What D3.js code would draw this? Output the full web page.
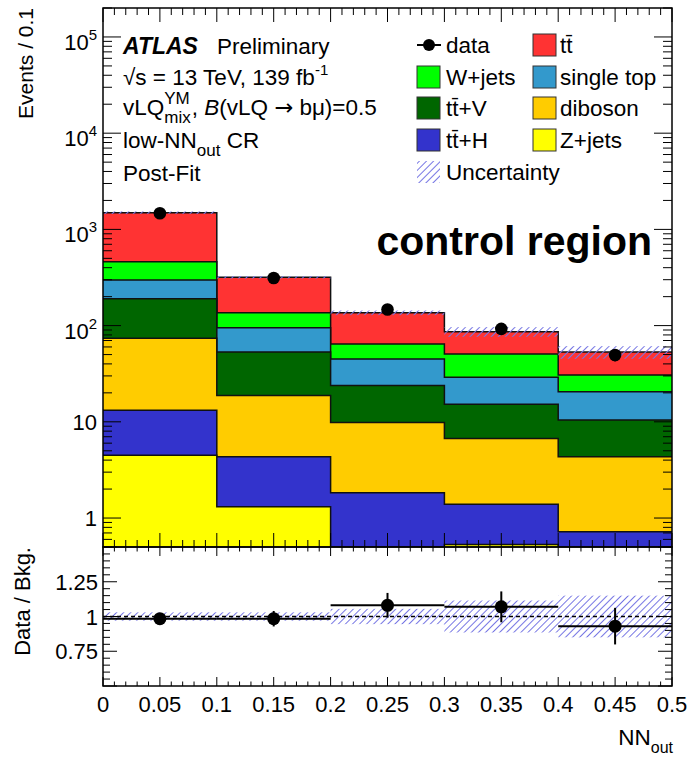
<!DOCTYPE html>
<html>
<head>
<meta charset="utf-8">
<script src="https://cdn.jsdelivr.net/npm/d3@7"></script>
<style>
  html, body { margin: 0; padding: 0; background: #fff; }
  svg text { font-family: "Liberation Sans", Arial, Helvetica, sans-serif; fill: #000; }
</style>
</head>
<body>
<svg id="chart" width="692" height="758"></svg>
<script>
// ---- data: NN output bins (width 0.1) ----
const binEdges = [0, 0.1, 0.2, 0.3, 0.4, 0.5];

// post-fit background yields per bin (stack order, bottom to top)
const zjets     = [4.5, 1.31, 0.3, 0.53, 0.2];
const ttH       = [8.7, 3.03, 1.53, 0.86, 0.52];
const diboson   = [60.8, 14.4, 8.0, 5.3, 3.62];
const ttV       = [116, 34.3, 14.0, 8.5, 6.1];
const singleTop = [108, 42, 21.2, 13.8, 10.15];
const wjets     = [164, 41, 19.4, 21.7, 10.1];
const ttbar     = [1031, 182, 71.6, 35.8, 22.5];

// observed data and its statistical error
const dataCounts = [1470, 313, 147, 92.5, 49.5];
const dataErrors = [38, 17.7, 12.1, 9.6, 7.0];

// relative total background uncertainty per bin
const bkgRelUnc = [0.03, 0.03, 0.055, 0.115, 0.15];

// legend / process labels
const processLabels = ["Z+jets", "t\u0074\u0304+H", "diboson", "t\u0074\u0304+V", "single top", "W+jets", "t\u0074\u0304"];
const processValues = [zjets, ttH, diboson, ttV, singleTop, wjets, ttbar];

// ---- styles ----
const processColors = ["#ffff00", "#3333cc", "#ffcc00", "#006600", "#3399cc", "#00ff00", "#ff3333"];
const hatchColor = "#7676e4";
const FONT = 22.5;

// ---- layout ----
const L = 103, R = 672, T = 8, MB = 547, RB = 686;

const svg = d3.select("#chart");
const x  = d3.scaleLinear().domain([0, 0.5]).range([L, R]);
const y  = d3.scaleLog().domain([0.5, 2e5]).range([MB, T]);
const yr = d3.scaleLinear().domain([0.5, 1.5]).range([RB, MB]);

const defs = svg.append("defs");
defs.append("clipPath").attr("id", "clipMain")
  .append("rect").attr("x", L).attr("y", T).attr("width", R - L).attr("height", MB - T);
defs.append("clipPath").attr("id", "clipRatio")
  .append("rect").attr("x", L).attr("y", MB).attr("width", R - L).attr("height", RB - MB);
const HS = 5;
const pat = defs.append("pattern").attr("id", "hatch")
  .attr("patternUnits", "userSpaceOnUse").attr("width", HS).attr("height", HS)
  .attr("patternTransform", "rotate(45)");
pat.append("line").attr("x1", 0.5).attr("y1", 0).attr("x2", 0.5).attr("y2", HS)
  .attr("stroke", hatchColor).attr("stroke-width", 1);

// ---- stacked histogram ----
const nBins = binEdges.length - 1;
const running = new Array(nBins).fill(0);
const layers = processValues.map((vals, k) => {
  const cum = vals.map((v, i) => (running[i] += v));
  return { label: processLabels[k], color: processColors[k], cum };
});
const totals = running.slice();

function stepPoints(vals) {
  const pts = vals.map((v, i) => ({ e: binEdges[i], v }));
  pts.push({ e: binEdges[vals.length], v: vals[vals.length - 1] });
  return pts;
}
const yFloor = y.domain()[0];
const area = d3.area().curve(d3.curveStepAfter)
  .x(d => x(d.e)).y0(y(yFloor)).y1(d => y(d.v));
const line = d3.line().curve(d3.curveStepAfter)
  .x(d => x(d.e)).y(d => y(d.v));

const gMain = svg.append("g").attr("clip-path", "url(#clipMain)");
layers.slice().reverse().forEach(l => {
  const pts = stepPoints(l.cum);
  gMain.append("path").attr("d", area(pts)).attr("fill", l.color);
  gMain.append("path").attr("d", line(pts)).attr("fill", "none")
    .attr("stroke", "#111").attr("stroke-width", 1.5);
});

// uncertainty band on the total
gMain.selectAll("rect.band").data(totals).join("rect").attr("class", "band")
  .attr("x", (d, i) => x(binEdges[i]))
  .attr("width", (d, i) => x(binEdges[i + 1]) - x(binEdges[i]))
  .attr("y", (d, i) => y(d * (1 + bkgRelUnc[i])))
  .attr("height", (d, i) => y(d * (1 - bkgRelUnc[i])) - y(d * (1 + bkgRelUnc[i])))
  .attr("fill", "url(#hatch)");

// data points
const centers = binEdges.slice(0, -1).map((e, i) => (e + binEdges[i + 1]) / 2);
dataCounts.forEach((n, i) => {
  gMain.append("line").attr("x1", x(centers[i])).attr("x2", x(centers[i]))
    .attr("y1", y(n - dataErrors[i])).attr("y2", y(n + dataErrors[i]))
    .attr("stroke", "#000").attr("stroke-width", 2);
  gMain.append("circle").attr("cx", x(centers[i])).attr("cy", y(n)).attr("r", 6.3).attr("fill", "#000");
});

// ---- ratio panel ----
const gRatio = svg.append("g").attr("clip-path", "url(#clipRatio)");
totals.forEach((tot, i) => {
  gRatio.append("rect")
    .attr("x", x(binEdges[i])).attr("width", x(binEdges[i + 1]) - x(binEdges[i]))
    .attr("y", yr(1 + bkgRelUnc[i])).attr("height", yr(1 - bkgRelUnc[i]) - yr(1 + bkgRelUnc[i]))
    .attr("fill", "url(#hatch)");
});
gRatio.append("line").attr("x1", L).attr("x2", R).attr("y1", yr(1)).attr("y2", yr(1))
  .attr("stroke", "#000").attr("stroke-width", 1.5).attr("stroke-dasharray", "4,3");
totals.forEach((tot, i) => {
  const r = dataCounts[i] / tot, e = dataErrors[i] / tot;
  gRatio.append("line").attr("x1", x(binEdges[i])).attr("x2", x(binEdges[i + 1]))
    .attr("y1", yr(r)).attr("y2", yr(r)).attr("stroke", "#000").attr("stroke-width", 2);
  gRatio.append("line").attr("x1", x(centers[i])).attr("x2", x(centers[i]))
    .attr("y1", yr(r - e)).attr("y2", yr(r + e)).attr("stroke", "#000").attr("stroke-width", 2);
  gRatio.append("circle").attr("cx", x(centers[i])).attr("cy", yr(r)).attr("r", 6.5).attr("fill", "#000");
});

// ---- ticks and frames ----
const gAx = svg.append("g").attr("stroke", "#000").attr("stroke-width", 1);
const near = (a, b) => Math.abs(a - b) < 1e-9;
const xMajor = x.ticks(10), xMinor = x.ticks(50);
function xTicks(yPos, dir, majLen, minLen) {
  xMinor.forEach(t => {
    const len = xMajor.some(m => near(m, t)) ? majLen : minLen;
    gAx.append("line").attr("x1", x(t)).attr("x2", x(t)).attr("y1", yPos).attr("y2", yPos + dir * len);
  });
}
xTicks(MB, -1, 14, 7);
xTicks(T, 1, 14, 7);
xTicks(RB, -1, 9, 4.5);
xTicks(MB, 1, 9, 4.5);

const yAll = y.ticks().filter(t => t >= y.domain()[0] && t <= y.domain()[1]);
const isDecade = t => near(Math.log10(t), Math.round(Math.log10(t)));
yAll.forEach(t => {
  const len = isDecade(t) ? 18 : 9;
  gAx.append("line").attr("x1", L).attr("x2", L + len).attr("y1", y(t)).attr("y2", y(t));
  gAx.append("line").attr("x1", R).attr("x2", R - len).attr("y1", y(t)).attr("y2", y(t));
});
const yrAll = yr.ticks(20);
const isQuarter = t => near(t * 4, Math.round(t * 4));
yrAll.forEach(t => {
  const len = isQuarter(t) ? 14 : 7;
  gAx.append("line").attr("x1", L).attr("x2", L + len).attr("y1", yr(t)).attr("y2", yr(t));
  gAx.append("line").attr("x1", R).attr("x2", R - len).attr("y1", yr(t)).attr("y2", yr(t));
});

svg.append("rect").attr("x", L).attr("y", T).attr("width", R - L).attr("height", MB - T)
  .attr("fill", "none").attr("stroke", "#000").attr("stroke-width", 1.5);
svg.append("rect").attr("x", L).attr("y", MB).attr("width", R - L).attr("height", RB - MB)
  .attr("fill", "none").attr("stroke", "#000").attr("stroke-width", 1.5);

// ---- rich text helper (super/subscripts via baseline shifts) ----
function rich(x0, y0, segs, anchor, size) {
  const t = svg.append("text").attr("x", x0).attr("y", y0)
    .attr("font-size", size || FONT).attr("text-anchor", anchor || "start");
  let cur = 0;
  segs.forEach(s => {
    const sh = s.shift || 0;
    const sp = t.append("tspan").text(s.t).attr("dy", sh - cur);
    cur = sh;
    if (s.size) sp.attr("font-size", s.size);
    if (s.italic) sp.attr("font-style", "italic");
    if (s.bold) sp.attr("font-weight", "bold");
    if (s.family) sp.style("font-family", s.family);
  });
  return t;
}

// tick labels
const fmtX = d3.format(".2~f");
xMajor.forEach(t => rich(x(t), 712, [{ t: fmtX(t) }], "middle", 22));
yAll.filter(isDecade).forEach(t => {
  const p = Math.round(Math.log10(t));
  if (p >= 2) rich(97, y(t) + 13, [{ t: "10" }, { t: String(p), size: 15, shift: -10 }], "end", 22);
  else rich(97, y(t) + 8, [{ t: p === 1 ? "10" : "1" }], "end", 22);
});
const fmtR = d3.format("~g");
yrAll.filter(isQuarter).filter(t => t > yr.domain()[0] && t < yr.domain()[1])
  .forEach(t => rich(98, yr(t) + 8, [{ t: fmtR(t) }], "end", 22));

// axis titles
svg.append("text").attr("transform", "translate(33,8) rotate(-90)")
  .attr("text-anchor", "end").attr("font-size", 21).text("Events / 0.1");
svg.append("text").attr("transform", "translate(30,547) rotate(-90)")
  .attr("text-anchor", "end").attr("font-size", 22).text("Data / Bkg.");
rich(673, 745, [{ t: "NN" }, { t: "out", size: 16, shift: 8 }], "end", 22.5);

// ---- labels ----
svg.append("text").attr("x", 123).attr("y", 54).attr("font-size", 23)
  .attr("font-weight", "bold").attr("font-style", "italic").text("ATLAS");
svg.append("text").attr("x", 217).attr("y", 54).attr("font-size", FONT).text("Preliminary");
rich(123, 85, [{ t: "\u221As = 13 TeV, 139 fb" }, { t: "-1", size: 15, shift: -10 }]);

// vLQ line with stacked super/subscript
const v1 = svg.append("text").attr("x", 123).attr("y", 115).attr("font-size", FONT).text("vLQ");
const w1 = v1.node().getComputedTextLength();
const sup = svg.append("text").attr("x", 123 + w1).attr("y", 104).attr("font-size", 17).text("YM");
const sub = svg.append("text").attr("x", 123 + w1).attr("y", 123).attr("font-size", 17).text("mix");
const w2 = Math.max(sup.node().getComputedTextLength(), sub.node().getComputedTextLength());
rich(123 + w1 + w2 + 1, 115, [
  { t: ", " }, { t: "B", italic: true }, { t: "(vLQ " },
  { t: "\u2192", family: "'DejaVu Sans', sans-serif" }, { t: " b\u03BC)=0.5" }
]);

rich(123, 148, [{ t: "low-NN" }, { t: "out", size: 17, shift: 8 }, { t: " CR", shift: 0 }]);
svg.append("text").attr("x", 123).attr("y", 181).attr("font-size", FONT).text("Post-Fit");

svg.append("text").attr("x", 652).attr("y", 255).attr("text-anchor", "end")
  .attr("font-size", 41).attr("font-weight", "bold").text("control region");

// ---- legend ----
const rowY = [45, 77, 108, 140, 172];
const colBox = [417, 533], colText = [446, 560];
const legendEntries = [
  { col: 0, row: 0, type: "data", label: "data" },
  { col: 1, row: 0, type: "box", k: 6 },
  { col: 0, row: 1, type: "box", k: 5 },
  { col: 1, row: 1, type: "box", k: 4 },
  { col: 0, row: 2, type: "box", k: 3 },
  { col: 1, row: 2, type: "box", k: 2 },
  { col: 0, row: 3, type: "box", k: 1 },
  { col: 1, row: 3, type: "box", k: 0 },
  { col: 0, row: 4, type: "unc", label: "Uncertainty" }
];
const gLeg = svg.append("g");
legendEntries.forEach(en => {
  const bx = colBox[en.col], cy = rowY[en.row];
  let label = en.label;
  if (en.type === "data") {
    gLeg.append("line").attr("x1", bx).attr("x2", bx + 24).attr("y1", cy).attr("y2", cy)
      .attr("stroke", "#000").attr("stroke-width", 2);
    gLeg.append("circle").attr("cx", bx + 12).attr("cy", cy).attr("r", 6).attr("fill", "#000");
  } else if (en.type === "box") {
    gLeg.append("rect").attr("x", bx).attr("y", cy - 11).attr("width", 23).attr("height", 22)
      .attr("fill", processColors[en.k]).attr("stroke", "#333").attr("stroke-width", 1);
    label = processLabels[en.k];
  } else {
    gLeg.append("rect").attr("x", bx).attr("y", cy - 11).attr("width", 23).attr("height", 22)
      .attr("fill", "url(#hatch)");
  }
  gLeg.append("text").attr("x", colText[en.col]).attr("y", cy + 8).attr("font-size", FONT).text(label);
});
</script>
</body>
</html>
